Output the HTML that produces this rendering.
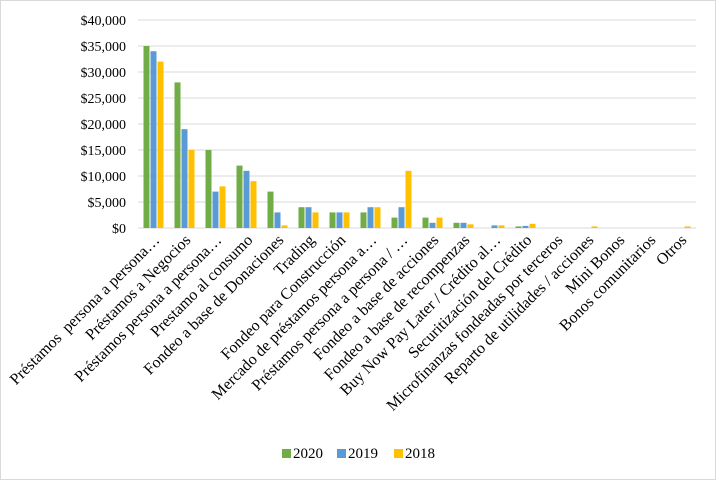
<!DOCTYPE html>
<html><head><meta charset="utf-8"><style>
body{margin:0;background:#fff}
svg{display:block;font-family:"Liberation Serif",serif}
</style></head><body>
<svg id="c" width="716" height="480">
<rect x="0.5" y="0.5" width="715" height="479" fill="#fff" stroke="#d9d9d9"/>
</svg>
<script>
const categories=["Préstamos \u00a0persona a persona…","Préstamos a Negocios","Préstamos persona a persona…","Prestamo al consumo","Fondeo a base de Donaciones","Trading","Fondeo para Construcción","Mercado de préstamos persona a…","Préstamos persona a persona / …","Fondeo a base de acciones","Fondeo a base de recompenzas","Buy Now Pay Later / Crédito al…","Securitización del Crédito","Microfinanzas fondeadas por terceros","Reparto de utilidades / acciones","Mini Bonos","Bonos comunitarios","Otros"];
const s2020=[35000,28000,15000,12000,7000,4000,3000,3000,2000,2000,1000,0,300,0,0,0,0,0];
const s2019=[34000,19000,7000,11000,3000,4000,3000,4000,4000,1000,1000,500,400,0,0,0,0,0];
const s2018=[32000,15000,8000,9000,500,3000,3000,4000,11000,2000,700,500,800,0,300,0,0,300];
const ticks=[0,5000,10000,15000,20000,25000,30000,35000,40000];
const tickLabels=["$0","$5,000","$10,000","$15,000","$20,000","$25,000","$30,000","$35,000","$40,000"];
const seriesNames=["2020","2019","2018"];
const colors=["#70ad47","#5b9bd5","#ffc000"];
const svg=document.getElementById('c');const NS="http://www.w3.org/2000/svg";
const x0=138,x1=696,yTop=20,yBot=228,maxV=40000;
const bw=(x1-x0)/categories.length;
const y=v=>yBot-(v/maxV)*(yBot-yTop);
function mk(t,a){const e=document.createElementNS(NS,t);for(const k in a)e.setAttribute(k,a[k]);svg.appendChild(e);return e;}
ticks.forEach((t,i)=>{
 const g=mk('line',{x1:x0,x2:x1,y1:y(t),y2:y(t),stroke:'#d9d9d9','stroke-width':1});
 
 
 const l=mk('text',{x:126,y:y(t)+5,'text-anchor':'end','font-size':14,fill:'#000'});l.textContent=tickLabels[i];
 
 
});
const series=[s2020,s2019,s2018];
categories.forEach((c,i)=>{
 const cx=x0+bw*(i+0.5);
 series.forEach((s,j)=>{
  const v=s[i];if(v<=0)return;
  const r=mk('rect',{x:cx-10+j*7,y:y(v),width:6,height:yBot-y(v),fill:colors[j]});
  
  
 });
 const t=mk('text',{x:cx+7,y:241,'text-anchor':'end','font-size':16,fill:'#000',transform:`rotate(-45 ${cx+7} 241)`});
 t.textContent=c;
 
 
});
const lx=[282,337,394];
seriesNames.forEach((n,j)=>{
 const r=mk('rect',{x:lx[j],y:449,width:9,height:9,fill:colors[j]});
 
 
 const t=mk('text',{x:lx[j]+11,y:458,'font-size':15,fill:'#000'});t.textContent=n;
 
 
});
</script>
</body></html>
